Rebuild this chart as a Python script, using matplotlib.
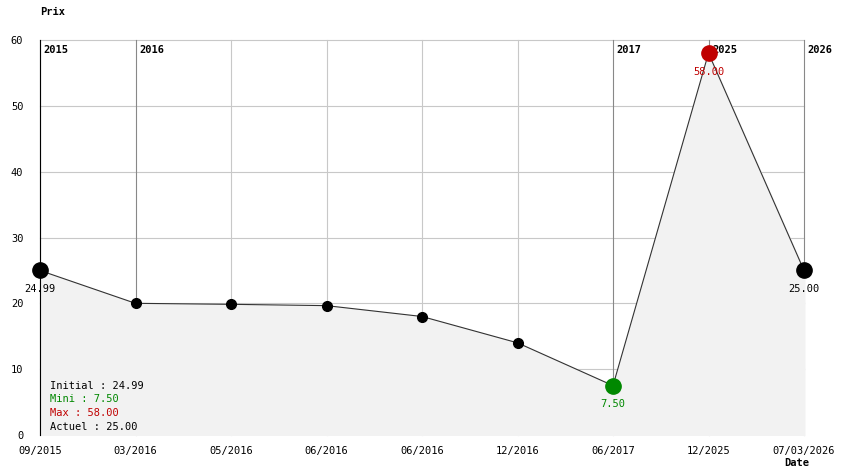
import matplotlib.pyplot as plt

dates = ['09/2015', '03/2016', '05/2016', '06/2016', '06/2016', '12/2016', '06/2017', '12/2025', '07/03/2026']
prices = [24.99, 20.0, 19.85, 19.65, 18.0, 14.0, 7.5, 58.0, 25.0]
year_idx = [0, 1, 6, 7, 8]
years = ['2015', '2016', '2017', '2025', '2026']
legend_lines = [('Initial : 24.99', 'black'), ('Mini : 7.50', '#008800'),
                ('Max : 58.00', '#c00000'), ('Actuel : 25.00', 'black')]

plt.rcParams['font.family'] = 'DejaVu Sans Mono'

fig = plt.figure(figsize=(8.44, 4.74), dpi=100)
ax = fig.add_axes([40/844, 39/474, 764/844, 395/474])
x = list(range(len(prices)))

ax.fill_between(x, prices, 0, color='#f2f2f2', zorder=1)
for yv in range(10, 70, 10):
    ax.axhline(yv, color='#c8c8c8', lw=0.8, zorder=0, clip_on=False)
for i in x:
    c = '#888888' if i in year_idx else '#c8c8c8'
    ax.axvline(i, color=c, lw=0.8, zorder=0.5, clip_on=False)
for i, yr in zip(year_idx, years):
    ax.text(i + 0.04, 58.5, yr, fontsize=7.5, fontweight='bold', va='center', ha='left', zorder=2)

ax.plot(x, prices, color='#333333', lw=0.8, zorder=3)
imin = prices.index(min(prices))
imax = prices.index(max(prices))
for i, p in enumerate(prices):
    if i == imin:
        ax.plot(i, p, 'o', color='#008800', ms=11, zorder=4, clip_on=False)
        ax.text(i, p - 2.8, '%.2f' % p, color='#008800', fontsize=7.5, ha='center', va='center', zorder=5)
    elif i == imax:
        ax.plot(i, p, 'o', color='#c00000', ms=11, zorder=4, clip_on=False)
        ax.text(i, p - 2.9, '%.2f' % p, color='#c00000', fontsize=7.5, ha='center', va='center', zorder=5)
    elif i == 0 or i == len(prices) - 1:
        ax.plot(i, p, 'o', color='black', ms=11, zorder=4, clip_on=False)
        ax.text(i, p - 2.8, '%.2f' % p, color='black', fontsize=7.5, ha='center', va='center', zorder=5)
    else:
        ax.plot(i, p, 'o', color='black', ms=7, zorder=4)

for k, (t, c) in enumerate(legend_lines):
    ax.text(0.1, 7.5 - k * 2.1, t, color=c, fontsize=7.5, ha='left', va='center', zorder=5)

ax.set_xlim(0, len(prices) - 1)
ax.set_ylim(0, 60)
ax.set_yticks(range(0, 70, 10))
ax.set_xticks(x)
ax.set_xticklabels(dates)
ax.tick_params(length=0, labelsize=7.5, pad=8)
ax.tick_params(axis='y', pad=12)
for s in ['top', 'right', 'bottom']:
    ax.spines[s].set_visible(False)
ax.spines['left'].set_linewidth(0.8)
ax.spines['left'].set_zorder(3.5)

fig.text(40/844, 1 - 12/474, 'Prix', fontsize=7.5, fontweight='bold', ha='left', va='center')
fig.text(784/844, 1 - 463/474, 'Date', fontsize=7.5, fontweight='bold', ha='left', va='center')

fig.savefig('out.png', dpi=100)
